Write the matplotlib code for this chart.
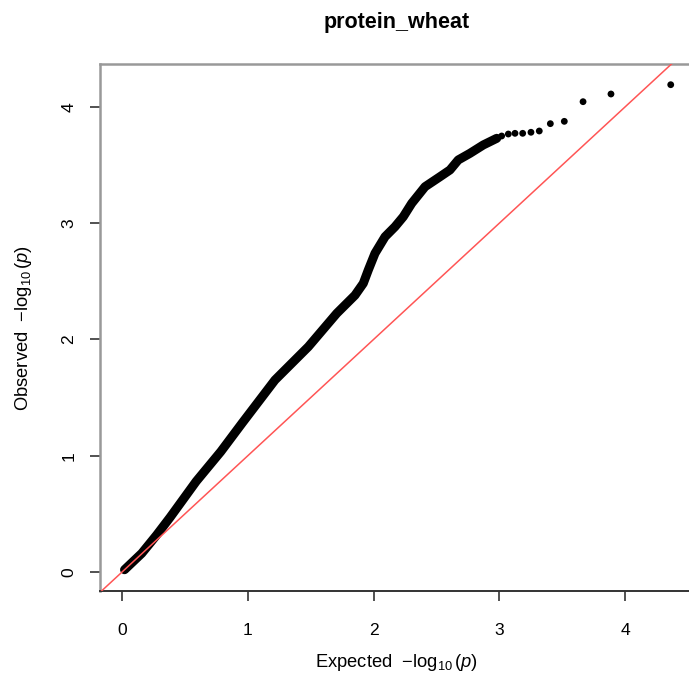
import numpy as np
import matplotlib
matplotlib.use("Agg")
import matplotlib.pyplot as plt

plt.rcParams.update({
    "font.family": "Liberation Sans",
    "mathtext.fontset": "custom",
    "mathtext.rm": "Liberation Sans",
    "mathtext.it": "Liberation Sans:italic",
    "mathtext.bf": "Liberation Sans:bold",
})

# dense part of the QQ curve (expected, observed -log10 p)
exp_band = [0.02, 0.157, 0.275, 0.382, 0.59, 0.785, 0.958, 1.216, 1.481,
            1.707, 1.852, 1.918, 1.958, 2.011, 2.091, 2.170, 2.236, 2.303,
            2.409, 2.528, 2.607, 2.673, 2.766, 2.872, 2.979]
obs_band = [0.02, 0.161, 0.318, 0.47, 0.78, 1.035, 1.285, 1.651, 1.937,
            2.224, 2.380, 2.482, 2.597, 2.740, 2.883, 2.969, 3.055, 3.170,
            3.313, 3.399, 3.457, 3.543, 3.600, 3.672, 3.729]

# the most significant hits, drawn as separate dots
exp_tail = [2.979, 3.018, 3.071, 3.124, 3.185, 3.251, 3.317, 3.405, 3.516,
            3.665, 3.887, 4.362]
obs_tail = [3.729, 3.749, 3.766, 3.772, 3.772, 3.781, 3.792, 3.855, 3.875,
            4.044, 4.110, 4.190]

fig = plt.figure(figsize=(6.89, 6.81), dpi=100)
ax = fig.add_axes([100 / 689, 90 / 681, 594 / 689, 527 / 681])

ax.plot(exp_band, obs_band, color="black", lw=6.5,
        solid_capstyle="round", solid_joinstyle="round", zorder=2)
ax.scatter(exp_tail, obs_tail, s=24, color="black", edgecolors="none", zorder=3)
ax.axline((0, 0), slope=1, color="#ff5555", lw=1.1, zorder=4)

ax.set_xlim(-0.175, 4.547)
ax.set_ylim(-0.163, 4.368)
ax.set_xticks([0, 1, 2, 3, 4])
ax.set_yticks([0, 1, 2, 3, 4])
ax.tick_params(direction="out", length=7, width=1.1, color="#222222",
               labelsize=12.6, pad=16)
ax.tick_params(axis="y", pad=10)
for lab in ax.get_yticklabels():
    lab.set_rotation(90)
    lab.set_va("center")

for side in ("top", "left"):
    ax.spines[side].set_color("#999999")
    ax.spines[side].set_linewidth(1.8)
ax.spines["bottom"].set_color("#333333")
ax.spines["bottom"].set_linewidth(1.4)
ax.spines["right"].set_visible(False)

ax.set_xlabel(r"Expected  $-\log_{10}(p)$", fontsize=13.2, labelpad=10)
ax.set_ylabel(r"Observed  $-\log_{10}(p)$", fontsize=13.2, labelpad=20)
ax.set_title("protein_wheat", fontsize=15.5, fontweight="bold", pad=26)

fig.savefig("out.png", dpi=100)
